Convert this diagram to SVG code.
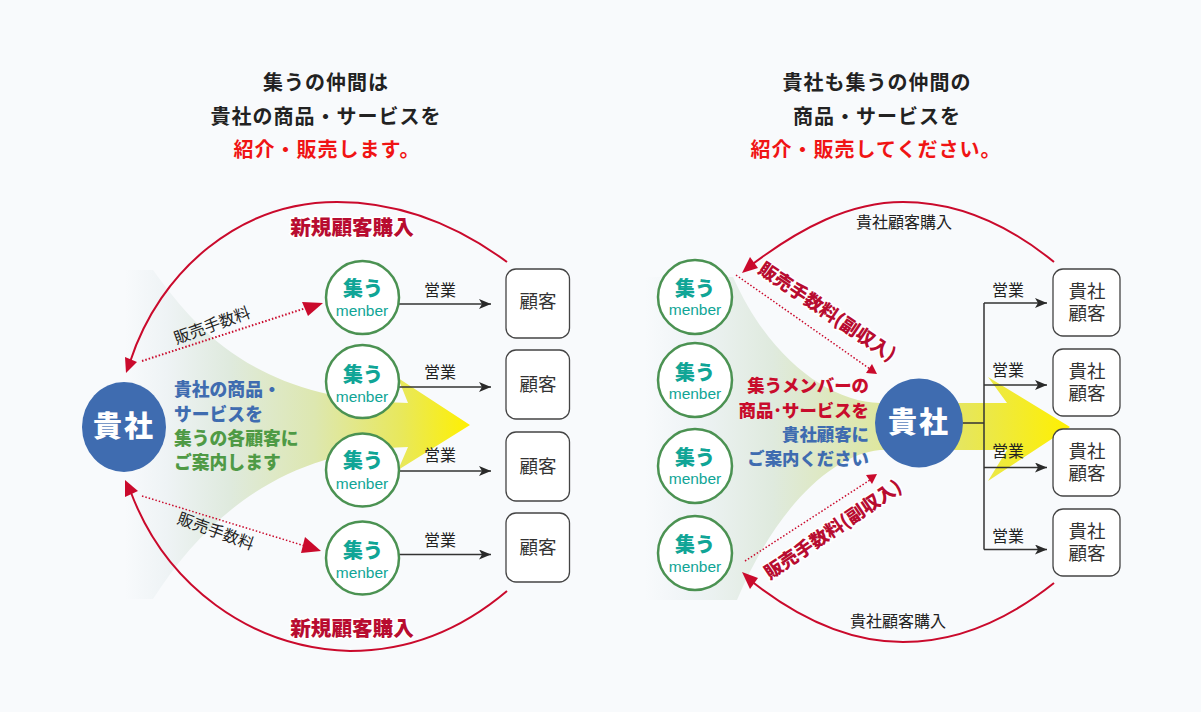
<svg xmlns="http://www.w3.org/2000/svg" width="1201" height="712" viewBox="0 0 1201 712">
<style>
text{font-family:"Noto Sans CJK JP","Noto Sans",sans-serif}
.t{font-size:20px;font-weight:700;text-anchor:middle;fill:#222;letter-spacing:1px}
.r{fill:#f01414}
.mc{fill:#fff;stroke:#4b9252;stroke-width:2.5}
.sh{font-size:20px;font-weight:900;fill:#10a596;text-anchor:middle}
.mb{font-family:"Liberation Sans",Arial,sans-serif;font-size:15.5px;fill:#10a596;text-anchor:middle}
.box{fill:#fff;stroke:#444;stroke-width:1.3}
.bt{font-size:18.5px;fill:#333;text-anchor:middle}
.eg{font-size:16px;fill:#222;text-anchor:middle}
.ln{fill:none;stroke:#333;stroke-width:1.5}
.arc{fill:none;stroke:#ca0a2c;stroke-width:2}
.dot{fill:none;stroke:#ca0a2c;stroke-width:2;stroke-dasharray:1.5 2}
.dot2{fill:none;stroke:#ca0a2c;stroke-width:1.5;stroke-dasharray:1.5 2}
.ah{fill:#ca0a2c}
.bk{fill:#3f6cb0}
.bw{font-size:29px;font-weight:900;fill:#fff;text-anchor:middle;letter-spacing:2px}
.red{font-weight:900;fill:#b80c30;paint-order:stroke;stroke:#fff;stroke-width:3px}
.g1{font-size:17.800px;font-weight:900}
.g2{font-size:17.400px;font-weight:900}
.lb{font-size:16px;fill:#222;text-anchor:middle}
</style>
<defs>
<linearGradient id="gl" gradientUnits="userSpaceOnUse" x1="125" y1="0" x2="470" y2="0">
<stop offset="0" stop-color="#f8fafc"/><stop offset=".12" stop-color="#eef3f5"/><stop offset=".3" stop-color="#dfeade"/><stop offset=".55" stop-color="#dde7b0"/><stop offset=".8" stop-color="#e8e85c"/><stop offset="1" stop-color="#fff000"/>
</linearGradient>
<linearGradient id="gr" gradientUnits="userSpaceOnUse" x1="645" y1="0" x2="1070" y2="0">
<stop offset="0" stop-color="#f8fafc"/><stop offset=".12" stop-color="#eef3f5"/><stop offset=".3" stop-color="#dfeade"/><stop offset=".5" stop-color="#dde7b0"/><stop offset=".75" stop-color="#e6e65c"/><stop offset="1" stop-color="#fff000"/>
</linearGradient>
<marker id="bk" viewBox="0 0 12 10" refX="12" refY="5" markerWidth="12" markerHeight="10" markerUnits="userSpaceOnUse" orient="auto"><path d="M0 0L12 5L0 10L3 5Z" fill="#2a2a2a"/></marker>
</defs>
<rect width="1201" height="712" fill="#f8fafc"/>
<g id="titles">
<text class="t" x="326" y="90">集うの仲間は</text>
<text class="t" x="326" y="124">貴社の商品・サービスを</text>
<text class="t r" x="327" y="157">紹介・販売します。</text>
<text class="t" x="877" y="90">貴社も集うの仲間の</text>
<text class="t" x="877" y="124">商品・サービスを</text>
<text class="t r" x="876" y="157">紹介・販売してください。</text>
</g>
<g id="flow-left"><path fill="url(#gl)" d="M125 270H153C200 335 260 400 408 403L398 378L470 425L398 470L408 447C290 450 210 510 153 599H125Z"/></g>
<g id="flow-right"><path fill="url(#gr)" d="M645 277H733C770 360 830 402 880 403H1007L988 377L1070 427L988 481L1007 450H880C830 455 775 510 737 600H645Z"/></g>
<g id="connectors">
<path class="arc" d="M507 262C450 220 395 202 337 202C240 202 160 270 130 362"/>
<path class="ah" d="M126 373L125 357L137 362Z"/>
<path class="arc" d="M507 591C455 635 400 651 350 651C250 648 165 585 130 490"/>
<path class="ah" d="M125 480L138 491L125 497Z"/>
<path class="dot" d="M142 361L306 308"/>
<path class="ah" d="M323 303L302 302L308 316Z"/>
<path class="dot2" d="M142 496L305 546"/>
<path class="ah" d="M321 551L305 537L301 553Z"/>
<path class="ln" marker-end="url(#bk)" d="M398 304H491"/>
<path class="ln" marker-end="url(#bk)" d="M398 387H491"/>
<path class="ln" marker-end="url(#bk)" d="M398 471H491"/>
<path class="ln" marker-end="url(#bk)" d="M398 554.500H491"/>
<path class="arc" d="M1054 262C1005 222 955 202 903 202C850 202 800 228 750 266"/>
<path class="ah" d="M742 273L750 257L758 268Z"/>
<path class="arc" d="M1054 583C1005 622 955 642 903 642C850 642 800 620 750 580"/>
<path class="ah" d="M742 572L758 578L750 589Z"/>
<path class="dot2" d="M736 275L870 369"/>
<path class="ah" d="M877 374L866 373L872 364Z"/>
<path class="dot2" d="M745 561L870 480"/>
<path class="ah" d="M877 474L872 484L866 475Z"/>
<path class="ln" d="M963 423H984M984 303V549.500"/>
<path class="ln" marker-end="url(#bk)" d="M984 303H1047"/>
<path class="ln" marker-end="url(#bk)" d="M984 385H1047"/>
<path class="ln" marker-end="url(#bk)" d="M984 467.500H1047"/>
<path class="ln" marker-end="url(#bk)" d="M984 549.500H1047"/>
</g>
<g id="connector-labels">
<text class="red" x="352" y="235" font-size="20.600" text-anchor="middle">新規顧客購入</text>
<text class="red" x="352" y="636" font-size="20.600" text-anchor="middle">新規顧客購入</text>
<text class="lb" transform="translate(212 325) rotate(-20)" y="6">販売手数料</text>
<text class="lb" transform="translate(216 531) rotate(20)" y="6">販売手数料</text>
<text class="eg" x="440" y="296">営業</text><text class="eg" x="440" y="378">営業</text><text class="eg" x="440" y="461">営業</text><text class="eg" x="440" y="546">営業</text>
<text class="lb" x="904" y="228">貴社顧客購入</text>
<text class="lb" x="898" y="627">貴社顧客購入</text>
<text class="red" font-size="18.300" text-anchor="middle" transform="translate(827 312) rotate(34)" y="6">販売手数料(副収入)</text>
<text class="red" font-size="18.300" text-anchor="middle" transform="translate(833 530) rotate(-34)" y="6">販売手数料(副収入)</text>
<text class="eg" x="1008" y="296">営業</text><text class="eg" x="1008" y="376">営業</text><text class="eg" x="1008" y="457">営業</text><text class="eg" x="1008" y="542">営業</text>
</g>
<g id="left-text" class="g1">
<text x="174" y="396" fill="#3f6cb0">貴社の商品・</text>
<text x="174" y="421" fill="#3f6cb0">サービスを</text>
<text x="174" y="445" fill="#4f9a45">集うの各顧客に</text>
<text x="174" y="469" fill="#4f9a45">ご案内します</text>
</g>
<g id="right-text" class="g2" text-anchor="end">
<text x="869" y="392" fill="#c80c2c">集うメンバーの</text>
<text x="869" y="417" fill="#c80c2c">商品･サービスを</text>
<text x="869" y="441" fill="#3f6cb0">貴社顧客に</text>
<text x="869" y="465" fill="#3f6cb0">ご案内ください</text>
</g>
<g id="kisha-left"><ellipse class="bk" cx="124" cy="427" rx="42" ry="45"/><text class="bw" x="124" y="437">貴社</text></g>
<g id="kisha-right"><ellipse class="bk" cx="919" cy="423" rx="44" ry="44.500"/><text class="bw" x="919" y="433">貴社</text></g>
<g id="member-l1"><circle class="mc" cx="362.500" cy="297.500" r="36.500"/><text class="sh" x="363" y="296">集う</text><text class="mb" x="362" y="316">menber</text></g>
<g id="member-l2"><circle class="mc" cx="362.500" cy="381.500" r="36.500"/><text class="sh" x="363" y="382">集う</text><text class="mb" x="362" y="402">menber</text></g>
<g id="member-l3"><circle class="mc" cx="362.500" cy="470" r="36.500"/><text class="sh" x="363" y="468">集う</text><text class="mb" x="362" y="489">menber</text></g>
<g id="member-l4"><circle class="mc" cx="362.500" cy="558" r="36.500"/><text class="sh" x="363" y="558">集う</text><text class="mb" x="362" y="578">menber</text></g>
<g id="member-r1"><circle class="mc" cx="695" cy="297" r="37"/><text class="sh" x="695" y="296">集う</text><text class="mb" x="695" y="315">menber</text></g>
<g id="member-r2"><circle class="mc" cx="695" cy="380" r="37"/><text class="sh" x="695" y="380">集う</text><text class="mb" x="695" y="399">menber</text></g>
<g id="member-r3"><circle class="mc" cx="695" cy="466" r="37"/><text class="sh" x="695" y="465">集う</text><text class="mb" x="695" y="484">menber</text></g>
<g id="member-r4"><circle class="mc" cx="695" cy="553" r="37"/><text class="sh" x="695" y="552">集う</text><text class="mb" x="695" y="572">menber</text></g>
<g id="cust-l1"><rect class="box" x="506" y="269" width="63.500" height="69" rx="10"/><text class="bt" x="538" y="308">顧客</text></g>
<g id="cust-l2"><rect class="box" x="506" y="350" width="63.500" height="69" rx="10"/><text class="bt" x="538" y="391">顧客</text></g>
<g id="cust-l3"><rect class="box" x="506" y="432" width="63.500" height="69" rx="10"/><text class="bt" x="538" y="473">顧客</text></g>
<g id="cust-l4"><rect class="box" x="506" y="513" width="63.500" height="69" rx="10"/><text class="bt" x="538" y="554">顧客</text></g>
<g id="cust-r1"><rect class="box" x="1053" y="269" width="67" height="67" rx="10"/><text class="bt" x="1087" y="298">貴社</text><text class="bt" x="1087" y="320">顧客</text></g>
<g id="cust-r2"><rect class="box" x="1053" y="349" width="67" height="67" rx="10"/><text class="bt" x="1087" y="378">貴社</text><text class="bt" x="1087" y="400">顧客</text></g>
<g id="cust-r3"><rect class="box" x="1053" y="429" width="67" height="67" rx="10"/><text class="bt" x="1087" y="458">貴社</text><text class="bt" x="1087" y="480">顧客</text></g>
<g id="cust-r4"><rect class="box" x="1053" y="509" width="67" height="67" rx="10"/><text class="bt" x="1087" y="538">貴社</text><text class="bt" x="1087" y="560">顧客</text></g>
</svg>
